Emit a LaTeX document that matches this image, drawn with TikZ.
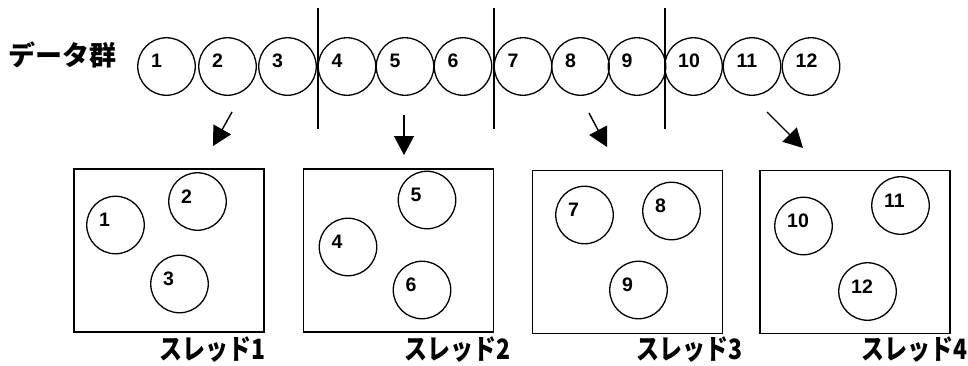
\documentclass[tikz,border=0pt]{standalone}
\usepackage{fontspec}
\setmainfont{Liberation Sans}
\newfontfamily\jpfont{Noto Sans CJK JP}
\usetikzlibrary{arrows.meta}
\newcommand\squeezed[2]{\scalebox{#1}[1]{#2}}
\begin{document}
\begin{tikzpicture}[x=1pt,y=-1pt,
  ball/.style={circle, draw, line width=1.3pt, minimum size=57.5pt, inner sep=0pt},
  num/.style={anchor=base west, inner sep=0pt, font=\bfseries\fontsize{19.5}{19.5}\selectfont},
  threadbox/.style={draw, line width=1.5pt, minimum width=190pt, minimum height=163pt, inner sep=0pt},
  divider/.style={line width=1.4pt},
  arr/.style={line width=1.4pt, -{Triangle[length=19pt,width=20pt]}},
  caption/.style={inner sep=0pt, anchor=west, font=\jpfont\bfseries\fontsize{27}{27}\selectfont},
  threadname/.style={inner sep=0pt, anchor=west, font=\jpfont\bfseries\fontsize{28}{28}\selectfont}]
\useasboundingbox (0,0) rectangle (968,365);

% title of the data row
\node[caption] (title) at (8,54.5) {データ群};

% the row of twelve data items
\foreach \i/\x in {1/166.5,2/227.5,3/287.5,4/347,5/405,6/463,7/523,8/580.5,9/637,10/693.5,11/752,12/811}{
  \node[ball] (d\i) at (\x,66.5) {};
  \node[num] (dl\i) at ([xshift=-15.5pt,yshift=-1pt]d\i.center) {\i};
}

% dividers between the groups
\foreach \k/\x in {1/318,2/494,3/665}{
  \coordinate (v\k t) at (\x,8);
  \coordinate (v\k b) at (\x,129);
  \draw[divider] (v\k t) -- (v\k b);
}

% thread boxes
\node[threadbox] (t1) at (169,250.5) {};
\node[threadbox] (t2) at (398.5,250.5) {};
\node[threadbox] (t3) at (627.5,252) {};
\node[threadbox] (t4) at (855,252) {};

% hand-off arrows
\coordinate (a1s) at (232,112); \coordinate (a1e) at (213,146);
\coordinate (a2s) at (404,115); \coordinate (a2e) at (404,155);
\coordinate (a3s) at (589,113); \coordinate (a3e) at (607,147);
\coordinate (a4s) at (767,112); \coordinate (a4e) at (803,148);
\foreach \k in {1,2,3,4}{ \draw[arr] (a\k s) -- (a\k e); }

% items inside each thread
\foreach \i/\x/\y in {1/115.5/225, 2/197.5/201.5, 3/179.5/284,
                      4/348/247, 5/427/200, 6/422/290,
                      7/584.5/215, 8/671.5/211, 9/638.5/290,
                      10/803.5/226, 11/900.5/205.5, 12/867.5/291.5}{
  \node[ball] (s\i) at (\x,\y) {};
  \node[num] (sl\i) at ([xshift=-16.5pt,yshift=-1.5pt]s\i.center) {\i};
}

% thread names
\node[threadname] (n1) at (159,349.5) {\squeezed{0.82}{スレッド1}};
\node[threadname] (n2) at (404,349.5) {\squeezed{0.82}{スレッド2}};
\node[threadname] (n3) at (636,349.5) {\squeezed{0.82}{スレッド3}};
\node[threadname] (n4) at (861,349.5) {\squeezed{0.82}{スレッド4}};
\end{tikzpicture}
\end{document}
